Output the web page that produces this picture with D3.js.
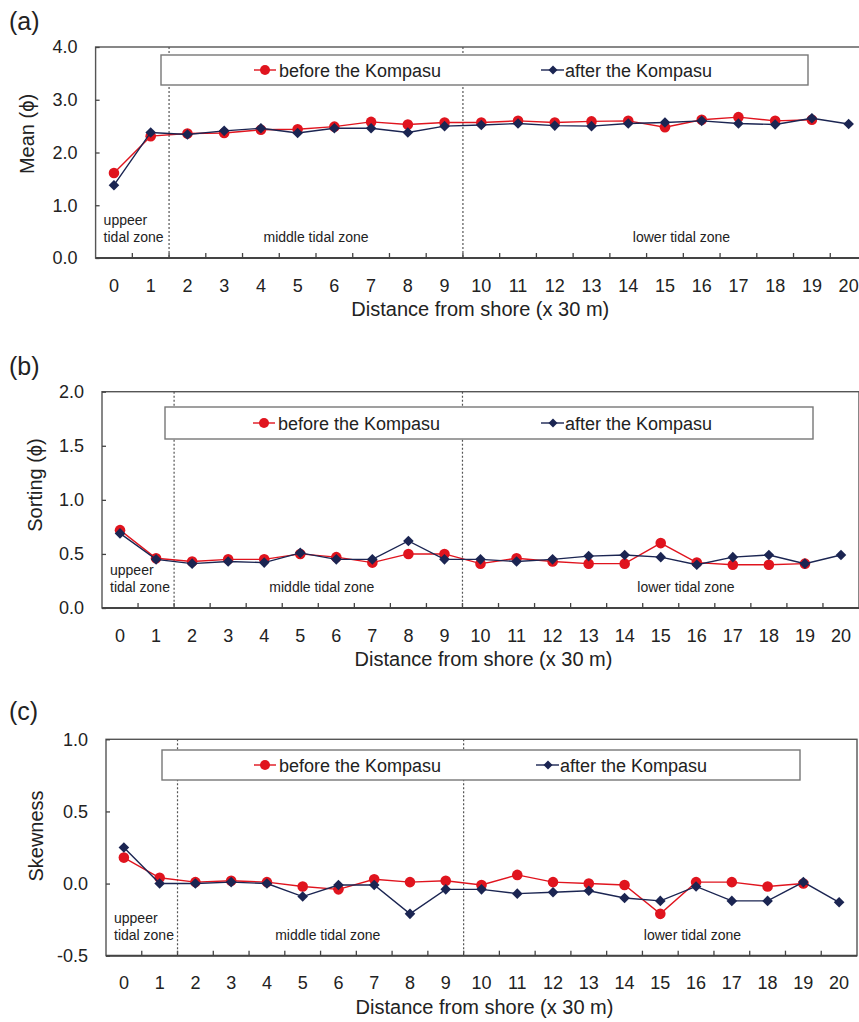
<!DOCTYPE html>
<meta charset="utf-8">
<title>Grain size parameters</title>
<style>
body {
  margin: 0;
  background: #fff;
  font-family: "Liberation Sans", Arial, Helvetica, sans-serif;
}
svg { display: block; }
.frame { fill: none; stroke: #555; stroke-width: 1.4; }
.base { stroke: #444; stroke-width: 2; }
.tick line { stroke: #444; stroke-width: 1.3; }
.tick text { fill: #222; }
.zone-div { stroke: #555; stroke-width: 1.2; stroke-dasharray: 2 2; }
.zone { font-size: 14px; fill: #222; }
.legend-box { fill: #fff; stroke: #777; stroke-width: 1.4; }
.legend text { font-size: 18px; fill: #222; }
.before { stroke: #e0141e; fill: none; stroke-width: 1.4; }
.after { stroke: #1b2552; fill: none; stroke-width: 1.4; }
.dot-before { fill: #e0141e; }
.dot-after { fill: #1b2552; }
</style>
<body>
<div id="chart"></div>
</body>
<script src="https://cdn.jsdelivr.net/npm/d3@7"></script>
<script>

// distance from shore, stations 0..20 (x 30 m)
var stations = ['0','1','2','3','4','5','6','7','8','9','10','11','12','13','14','15','16','17','18','19','20']

// (a) mean grain size (phi)
var meanBefore = [1.61, 2.31, 2.36, 2.37, 2.43, 2.44, 2.49, 2.58, 2.53, 2.57, 2.57, 2.60, 2.57, 2.59, 2.60, 2.48, 2.62, 2.67, 2.60, 2.62]
var meanAfter  = [1.38, 2.38, 2.34, 2.41, 2.46, 2.37, 2.46, 2.46, 2.38, 2.50, 2.52, 2.55, 2.51, 2.50, 2.55, 2.57, 2.60, 2.55, 2.53, 2.65, 2.54]

// (b) sorting (phi)
var sortBefore = [0.72, 0.46, 0.43, 0.45, 0.45, 0.50, 0.47, 0.42, 0.50, 0.50, 0.41, 0.46, 0.43, 0.41, 0.41, 0.60, 0.42, 0.40, 0.40, 0.41]
var sortAfter  = [0.69, 0.45, 0.41, 0.43, 0.42, 0.51, 0.45, 0.45, 0.62, 0.45, 0.45, 0.43, 0.45, 0.48, 0.49, 0.47, 0.40, 0.47, 0.49, 0.41, 0.49]

// (c) skewness
var skewBefore = [0.18, 0.04, 0.01, 0.02, 0.01, -0.02, -0.04, 0.03, 0.01, 0.02, -0.01, 0.06, 0.01, 0.00, -0.01, -0.21, 0.01, 0.01, -0.02, 0.00]
var skewAfter  = [0.25, 0.00, 0.00, 0.01, 0.00, -0.09, -0.01, -0.01, -0.21, -0.04, -0.04, -0.07, -0.06, -0.05, -0.10, -0.12, -0.02, -0.12, -0.12, 0.01, -0.13]

var meanTicks = [0, 1, 2, 3, 4]
var sortTicks = [0, 0.5, 1, 1.5, 2]
var skewTicks = [-0.5, 0, 0.5, 1]

var zoneBreaks = [1.5, 9.5]   // between stations 1|2 and 9|10

var W = 859, H = 1022
var svg = d3.select('#chart').append('svg').attr('width', W).attr('height', H)

var panels = [
  { tag: '(a)', tagY: 30, yTitle: 'Mean (\u03d5)', yTitleX: 34, yTitleY: 134,
    before: meanBefore, after: meanAfter, ticks: meanTicks, domain: [0, 4],
    left: 95.6, right: 867, top: 47, bottom: 258, midAt: 5.5, lowAt: 15.45,
    legend: { x0: 161, x1: 808, y0: 55, y1: 85, redX: 265, blueX: 553 } },
  { tag: '(b)', tagY: 375, yTitle: 'Sorting (\u03d5)', yTitleX: 42, yTitleY: 485,
    before: sortBefore, after: sortAfter, ticks: sortTicks, domain: [0, 2],
    left: 102, right: 859, top: 391.7, bottom: 608, midAt: 5.6, lowAt: 15.7,
    legend: { x0: 165, x1: 813, y0: 407, y1: 439, redX: 264, blueX: 553 } },
  { tag: '(c)', tagY: 720, yTitle: 'Skewness', yTitleX: 43, yTitleY: 836,
    before: skewBefore, after: skewAfter, ticks: skewTicks, domain: [-0.5, 1],
    left: 106, right: 857, top: 739.3, bottom: 955.7, midAt: 5.7, lowAt: 15.9,
    legend: { x0: 162, x1: 800, y0: 750, y1: 780, redX: 265, blueX: 548 } }
]

var fmt = d3.format('.1f')
function tickFmt(d) { return fmt(d).replace('\u2212', '-') }

function diamond(s) {
  return 'M0,' + (-s) + 'L' + s + ',0L0,' + s + 'L' + (-s) + ',0Z'
}

panels.forEach(drawPanel)

function drawPanel(p) {
  var x = d3.scaleBand().domain(stations).range([p.left, p.right])
  var y = d3.scaleLinear().domain(p.domain).range([p.bottom, p.top])
  var cx = function(d, i) { return x(stations[i]) + x.bandwidth() / 2 }
  var g = svg.append('g')

  svg.append('text').text(p.tag)
    .attr('x', 9).attr('y', p.tagY)
    .style('font-size', '25px').style('fill', '#222')

  // frame
  g.append('rect').attr('class', 'frame')
    .attr('x', p.left).attr('y', p.top)
    .attr('width', p.right - p.left).attr('height', p.bottom - p.top)

  // y axis, ticks pointing inward
  var yAxis = d3.axisLeft(y).tickValues(p.ticks).tickFormat(tickFmt)
    .tickSizeInner(-4).tickSizeOuter(0).tickPadding(18)
  g.append('g').attr('transform', 'translate(' + p.left + ',0)').call(yAxis)
    .call(function(s) { s.select('.domain').remove() })
    .selectAll('text').style('font-size', '18px')

  // x axis: labels at band centres, inward ticks at band edges
  var xAxis = d3.axisBottom(x).tickSize(0).tickPadding(21)
  g.append('g').attr('transform', 'translate(0,' + p.bottom + ')').call(xAxis)
    .call(function(s) { s.select('.domain').remove() })
    .selectAll('text').style('font-size', '18px')

  g.selectAll('line.xt').data(stations.slice(1)).enter().append('line')
    .attr('class', 'xt')
    .attr('x1', function(d) { return x(d) }).attr('x2', function(d) { return x(d) })
    .attr('y1', p.bottom).attr('y2', p.bottom - 5)
    .style('stroke', '#444').style('stroke-width', 1.3)

  g.append('line').attr('class', 'base')
    .attr('x1', p.left).attr('x2', p.right).attr('y1', p.bottom).attr('y2', p.bottom)

  // axis titles
  svg.append('text').text('Distance from shore (x 30 m)')
    .attr('x', (p.left + Math.min(p.right, 859)) / 2 + 3).attr('y', p.bottom + 58)
    .attr('text-anchor', 'middle').style('font-size', '20px').style('fill', '#222')

  svg.append('text').text(p.yTitle)
    .attr('transform', 'translate(' + p.yTitleX + ',' + p.yTitleY + ') rotate(-90)')
    .attr('text-anchor', 'middle').style('font-size', '20px').style('fill', '#222')

  // zone dividers
  var bx = function(v) { return x(stations[0]) + x.bandwidth() * (v + 0.5) }
  g.selectAll('line.zone-div').data(zoneBreaks).enter().append('line')
    .attr('class', 'zone-div')
    .attr('x1', bx).attr('x2', bx).attr('y1', p.top).attr('y2', p.bottom)

  // zone labels
  g.append('text').attr('class', 'zone').attr('x', p.left + 8).attr('y', p.bottom - 33).text('uppeer')
  g.append('text').attr('class', 'zone').attr('x', p.left + 8).attr('y', p.bottom - 16).text('tidal zone')
  g.append('text').attr('class', 'zone').attr('text-anchor', 'middle')
    .attr('x', bx(p.midAt)).attr('y', p.bottom - 16).text('middle tidal zone')
  g.append('text').attr('class', 'zone').attr('text-anchor', 'middle')
    .attr('x', bx(p.lowAt)).attr('y', p.bottom - 16).text('lower tidal zone')

  // legend
  var L = p.legend
  var lg = g.append('g').attr('class', 'legend')
  lg.append('rect').attr('class', 'legend-box')
    .attr('x', L.x0).attr('y', L.y0).attr('width', L.x1 - L.x0).attr('height', L.y1 - L.y0)
  var ly = (L.y0 + L.y1) / 2
  lg.append('line').attr('class', 'before')
    .attr('x1', L.redX - 11).attr('x2', L.redX + 11).attr('y1', ly).attr('y2', ly)
  lg.append('circle').attr('class', 'dot-before').attr('cx', L.redX).attr('cy', ly).attr('r', 5)
  lg.append('text').attr('x', L.redX + 14).attr('y', ly + 6.5).text('before the Kompasu')
  lg.append('line').attr('class', 'after')
    .attr('x1', L.blueX - 12).attr('x2', L.blueX + 11).attr('y1', ly).attr('y2', ly)
  lg.append('path').attr('class', 'dot-after')
    .attr('d', diamond(4.5))
    .attr('transform', 'translate(' + L.blueX + ',' + ly + ')')
  lg.append('text').attr('x', L.blueX + 12).attr('y', ly + 6.5).text('after the Kompasu')

  // series
  var line = d3.line().x(cx).y(function(d) { return y(d) })

  g.append('path').datum(p.before).attr('class', 'before').attr('d', line)
  g.selectAll('circle.pt').data(p.before).enter().append('circle')
    .attr('class', 'pt dot-before')
    .attr('cx', cx).attr('cy', function(d) { return y(d) }).attr('r', 5.3)

  g.append('path').datum(p.after).attr('class', 'after').attr('d', line)
  g.selectAll('path.dm').data(p.after).enter().append('path')
    .attr('class', 'dm dot-after')
    .attr('d', diamond(5.3))
    .attr('transform', function(d, i) { return 'translate(' + cx(d, i) + ',' + y(d) + ')' })
}

</script>
